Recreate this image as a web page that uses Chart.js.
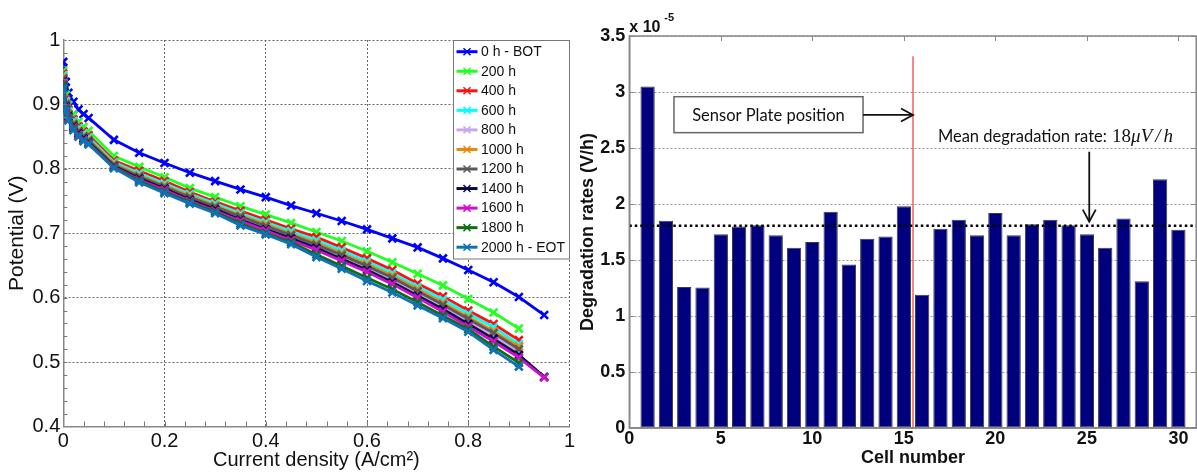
<!DOCTYPE html>
<html><head><meta charset="utf-8">
<script src="https://cdn.jsdelivr.net/npm/chart.js@4.4.0/dist/chart.umd.min.js"></script>
<style>
html,body{margin:0;padding:0;background:#fff;width:1197px;height:472px;overflow:hidden;}
#c1{position:absolute;left:0;top:0;}
#c2{position:absolute;left:570px;top:0;}
</style></head><body>
<canvas id="c1" width="585" height="472"></canvas>
<canvas id="c2" width="627" height="472"></canvas>
<script>
// ---------- Left panel data: polarization curves ----------
const currentDensity = [0,0.005,0.01,0.02,0.03,0.04,0.05,0.1,0.15,0.2,0.25,0.3,0.35,0.4,0.45,0.5,0.55,0.6,0.65,0.7,0.75,0.8,0.85,0.9,0.95];
const seriesLabels = ["0 h - BOT","200 h","400 h","600 h","800 h","1000 h","1200 h","1400 h","1600 h","1800 h","2000 h - EOT"];
const v0h    = [0.966,0.935,0.918,0.904,0.892,0.885,0.879,0.845,0.825,0.809,0.794,0.781,0.768,0.756,0.743,0.731,0.719,0.706,0.692,0.678,0.661,0.643,0.624,0.601,0.573];
const v200h  = [0.952,0.915,0.899,0.884,0.873,0.865,0.859,0.820,0.803,0.787,0.770,0.756,0.742,0.729,0.716,0.702,0.688,0.672,0.655,0.637,0.619,0.598,0.577,0.552,null];
const v400h  = [0.948,0.908,0.892,0.877,0.866,0.858,0.852,0.813,0.797,0.781,0.764,0.749,0.735,0.721,0.707,0.694,0.678,0.661,0.643,0.622,0.602,0.580,0.559,0.534,null];
const v600h  = [0.945,0.905,0.889,0.874,0.863,0.855,0.849,0.810,0.793,0.777,0.761,0.746,0.731,0.717,0.703,0.689,0.673,0.656,0.638,0.617,0.597,0.575,0.554,0.528,null];
const v800h  = [0.938,0.898,0.882,0.867,0.856,0.848,0.842,0.805,0.786,0.770,0.754,0.739,0.723,0.708,0.694,0.679,0.662,0.645,0.627,0.606,0.585,0.563,0.540,0.515,null];
const v1000h = [0.942,0.902,0.886,0.871,0.860,0.852,0.846,0.808,0.790,0.774,0.758,0.743,0.728,0.714,0.699,0.685,0.669,0.652,0.634,0.613,0.592,0.570,0.548,0.524,null];
const v1200h = [0.940,0.900,0.884,0.869,0.858,0.850,0.844,0.806,0.788,0.772,0.756,0.741,0.726,0.711,0.697,0.682,0.666,0.649,0.631,0.610,0.589,0.567,0.545,0.520,null];
const v1400h = [0.936,0.897,0.881,0.866,0.855,0.847,0.841,0.804,0.785,0.769,0.752,0.737,0.721,0.706,0.692,0.677,0.660,0.643,0.624,0.603,0.582,0.559,0.536,0.511,0.477];
const v1600h = [0.934,0.895,0.879,0.864,0.853,0.845,0.840,0.803,0.783,0.767,0.750,0.735,0.719,0.704,0.689,0.674,0.657,0.640,0.621,0.600,0.578,0.555,0.532,0.507,0.476];
const v1800h = [0.930,0.892,0.877,0.862,0.851,0.844,0.839,0.802,0.781,0.764,0.748,0.733,0.715,0.700,0.686,0.667,0.649,0.631,0.613,0.593,0.572,0.551,0.524,0.499,null];
const v2000h = [0.925,0.890,0.875,0.860,0.850,0.843,0.838,0.801,0.779,0.762,0.746,0.731,0.712,0.698,0.683,0.663,0.645,0.626,0.608,0.588,0.568,0.547,0.519,0.493,null];
const seriesValues = [v0h,v200h,v400h,v600h,v800h,v1000h,v1200h,v1400h,v1600h,v1800h,v2000h];
const seriesColors = ["#0000ff","#22ff22","#ff1010","#00ffff","#c8a8ec","#e8870a","#5a5a5a","#0a0a40","#d010d0","#106e10","#1070b8"];
const potentialTicks = [0.4,0.5,0.6,0.7,0.8,0.9,1];
const densityTicks = [0,0.2,0.4,0.6,0.8,1];

// ---------- Right panel data: degradation rates (x 1e-5 V/h) ----------
const cellNumbers = [1,2,3,4,5,6,7,8,9,10,11,12,13,14,15,16,17,18,19,20,21,22,23,24,25,26,27,28,29,30];
const degradationRates = [3.05,1.85,1.26,1.255,1.73,1.80,1.81,1.72,1.61,1.66,1.93,1.46,1.69,1.71,1.98,1.19,1.78,1.86,1.72,1.92,1.72,1.82,1.86,1.81,1.73,1.61,1.87,1.31,2.22,1.77];
const meanRate = 1.806;
const sensorPlatePosition = 15.5;
const sensorLineTop = 3.32;
const cellTicks = [0,5,10,15,20,25,30];
const rateTicks = [0,0.5,1,1.5,2,2.5,3,3.5];

const ARIAL = "'Liberation Sans', Arial, sans-serif";
const fmt = v => String(Math.round(v * 100) / 100);

// ---------- Left chart ----------
const leftLegend = {
  id:'leftLegend',
  afterDraw(chart){
    const ctx = chart.ctx, ca = chart.chartArea;
    const x0 = Math.round(ca.right) - 117 + 0.5, y0 = Math.round(ca.top) + 0.5, w = 116, h = 218.5;
    ctx.save();
    ctx.fillStyle = '#fff'; ctx.fillRect(x0, y0, w, h);
    ctx.strokeStyle = '#777'; ctx.lineWidth = 1; ctx.strokeRect(x0, y0, w, h);
    ctx.font = '14px ' + ARIAL; ctx.textBaseline = 'middle'; ctx.fillStyle = '#111';
    seriesLabels.forEach((lab, i) => {
      const y = y0 + 11.2 + i * 19.55;
      ctx.strokeStyle = seriesColors[i]; ctx.lineWidth = 3;
      ctx.beginPath(); ctx.moveTo(x0 + 3, y); ctx.lineTo(x0 + 24, y); ctx.stroke();
      ctx.lineWidth = 1.5;
      const cx = x0 + 13.5, r = 3.5;
      ctx.beginPath(); ctx.moveTo(cx - r, y - r); ctx.lineTo(cx + r, y + r);
      ctx.moveTo(cx - r, y + r); ctx.lineTo(cx + r, y - r); ctx.stroke();
      ctx.fillText(lab, x0 + 27.5, y + 0.5);
    });
    ctx.restore();
  }
};
const leftMinorTicks = {
  id:'leftMinorTicks',
  afterDatasetsDraw(chart){
    const ctx = chart.ctx, ca = chart.chartArea, xs = chart.scales.x, ys = chart.scales.y;
    ctx.save(); ctx.strokeStyle = '#777'; ctx.lineWidth = 1;
    ctx.beginPath();
    for (let k = 1; k < 30; k++) { const p = Math.round(ys.getPixelForValue(0.4 + k * 0.02)) + 0.5; ctx.moveTo(ca.left, p); ctx.lineTo(ca.left + 4, p); }
    for (let k = 1; k < 25; k++) { const p = Math.round(xs.getPixelForValue(k * 0.04)) + 0.5; ctx.moveTo(p, ca.bottom); ctx.lineTo(p, ca.bottom - 5); }
    ctx.stroke(); ctx.restore();
  }
};

new Chart(document.getElementById('c1'), {
  type: 'line',
  data: {
    datasets: seriesValues.map((vals, i) => ({
      label: seriesLabels[i],
      data: currentDensity.map((x, j) => ({x: x, y: vals[j]})).filter(p => p.y !== null),
      borderColor: seriesColors[i], backgroundColor: seriesColors[i],
      borderWidth: 2.8, pointStyle: 'crossRot', pointRadius: 5.5, pointBorderWidth: 2.6,
      fill: false, tension: 0, order: 20 - i
    }))
  },
  options: {
    responsive: false, animation: false, devicePixelRatio: 1,
    layout: { padding: { left: 0, top: 40, right: 15.5, bottom: 0 } },
    plugins: { legend: { display: false }, tooltip: { enabled: false } },
    scales: {
      x: {
        type: 'linear', min: 0, max: 1,
        afterBuildTicks(s){ s.ticks = densityTicks.map(v => ({value: v})); },
        afterFit(s){ s.height = 45.5; },
        grid: { color: '#666', lineWidth: 1, drawTicks: false },
        border: { display: true, color: '#888', width: 1.5, dash: [2, 2] },
        ticks: { color: '#111', font: { family: ARIAL, size: 20 }, padding: 3, maxRotation: 0, autoSkip: false, callback: fmt },
        title: { display: true, text: 'Current density (A/cm²)', color: '#111', font: { family: ARIAL, size: 20 }, padding: { top: 0, bottom: 0 } }
      },
      y: {
        type: 'linear', min: 0.4, max: 1,
        afterBuildTicks(s){ s.ticks = potentialTicks.map(v => ({value: v})); },
        afterFit(s){ s.width = 63.3; },
        grid: { color: '#666', lineWidth: 1, drawTicks: false },
        border: { display: true, color: '#888', width: 1.5, dash: [2, 2] },
        ticks: { color: '#111', font: { family: ARIAL, size: 20 }, padding: 3, callback: fmt },
        title: { display: true, text: 'Potential (V)', color: '#111', font: { family: ARIAL, size: 21 }, padding: { top: 5, bottom: 0 } }
      }
    }
  },
  plugins: [leftMinorTicks, leftLegend]
});

// ---------- Right chart ----------
const CAL = "Lato, 'Open Sans', sans-serif";
function arrowHead(ctx, tx, ty, dir){
  ctx.beginPath();
  if (dir === 'right') { ctx.moveTo(tx - 12, ty - 6.5); ctx.lineTo(tx, ty); ctx.lineTo(tx - 12, ty + 6.5); }
  else { ctx.moveTo(tx - 6.5, ty - 12); ctx.lineTo(tx, ty); ctx.lineTo(tx + 6.5, ty - 12); }
  ctx.stroke();
}
const rightDecor = {
  id:'rightDecor',
  afterDraw(chart){
    const ctx = chart.ctx, ca = chart.chartArea, xs = chart.scales.x, ys = chart.scales.y;
    ctx.save();
    ctx.strokeStyle = '#888'; ctx.lineWidth = 1.5;
    ctx.strokeRect(ca.left, ca.top, ca.right - ca.left - 0.5, ca.bottom - ca.top);
    ctx.lineWidth = 1; ctx.beginPath();
    cellTicks.forEach(v => { const p = Math.round(xs.getPixelForValue(v)) + 0.5; ctx.moveTo(p, ca.top); ctx.lineTo(p, ca.top + 5); });
    rateTicks.forEach(v => { const p = Math.round(ys.getPixelForValue(v)) + 0.5; ctx.moveTo(ca.left, p); ctx.lineTo(ca.left + 5, p); ctx.moveTo(ca.right - 1, p); ctx.lineTo(ca.right - 6, p); });
    ctx.stroke();
    ctx.fillStyle = '#111'; ctx.textBaseline = 'middle'; ctx.textAlign = 'left';
    ctx.font = 'bold 16px ' + ARIAL; ctx.fillText('x 10', ca.left, ca.top - 8.5);
    ctx.font = 'bold 11px ' + ARIAL; ctx.fillText('-5', ca.left + 35, ca.top - 18);
    const bx0 = xs.getPixelForValue(2.44), bx1 = xs.getPixelForValue(12.77);
    const by0 = ys.getPixelForValue(2.958), by1 = ys.getPixelForValue(2.637);
    ctx.fillStyle = '#fff'; ctx.fillRect(bx0, by0, bx1 - bx0, by1 - by0);
    ctx.strokeStyle = '#666'; ctx.lineWidth = 1.5; ctx.strokeRect(bx0, by0, bx1 - bx0, by1 - by0);
    ctx.fillStyle = '#111'; ctx.font = '16.5px ' + CAL; ctx.textAlign = 'center';
    ctx.fillText('Sensor Plate position', (bx0 + bx1) / 2, (by0 + by1) / 2 + 1);
    const ay = ys.getPixelForValue(2.795), ax1 = xs.getPixelForValue(sensorPlatePosition);
    ctx.strokeStyle = '#111'; ctx.lineWidth = 1.8;
    ctx.beginPath(); ctx.moveTo(bx1, ay); ctx.lineTo(ax1, ay); ctx.stroke();
    arrowHead(ctx, ax1, ay, 'right');
    const tx = xs.getPixelForValue(16.86), ty = ys.getPixelForValue(2.601);
    ctx.textAlign = 'left'; ctx.font = '16.5px ' + CAL;
    const t1 = 'Mean degradation rate: ';
    ctx.fillText(t1, tx, ty);
    let cx = tx + ctx.measureText(t1).width + 1;
    ctx.font = "19px 'Liberation Serif', serif";
    ctx.fillText('18', cx, ty); cx += ctx.measureText('18').width;
    ctx.font = "italic 19px 'Liberation Serif', serif";
    ctx.fillText('\u03BCV', cx, ty); cx += ctx.measureText('\u03BCV').width + 3;
    ctx.fillText('/', cx, ty); cx += ctx.measureText('/').width + 3;
    ctx.fillText('h', cx, ty);
    const mx = xs.getPixelForValue(25.13);
    ctx.beginPath(); ctx.moveTo(mx, ys.getPixelForValue(2.467)); ctx.lineTo(mx, ys.getPixelForValue(1.842)); ctx.stroke();
    arrowHead(ctx, mx, ys.getPixelForValue(1.842), 'down');
    ctx.restore();
  }
};

new Chart(document.getElementById('c2'), {
  type: 'bar',
  data: {
    datasets: [
      { type: 'line', label: 'mean', data: [{x: 0, y: meanRate}, {x: 31, y: meanRate}],
        borderColor: '#000', borderWidth: 2.5, borderDash: [2.5, 3], pointRadius: 0, fill: false, order: 0 },
      { type: 'line', label: 'sensor', data: [{x: sensorPlatePosition, y: 0}, {x: sensorPlatePosition, y: sensorLineTop}],
        borderColor: '#f06060', borderWidth: 1.5, pointRadius: 0, fill: false, order: 1 },
      { type: 'bar', label: 'rate', data: cellNumbers.map((c, i) => ({x: c, y: degradationRates[i]})),
        backgroundColor: '#00007f', borderColor: '#3c3c3c', borderWidth: 1, borderSkipped: false,
        barPercentage: 0.78, categoryPercentage: 1, order: 2 }
    ]
  },
  options: {
    responsive: false, animation: false, devicePixelRatio: 1,
    layout: { padding: { left: 0, top: 36, right: 0.3, bottom: 0 } },
    plugins: { legend: { display: false }, tooltip: { enabled: false } },
    scales: {
      x: {
        type: 'linear', min: 0, max: 31, offset: false,
        afterBuildTicks(s){ s.ticks = cellTicks.map(v => ({value: v})); },
        afterFit(s){ s.height = 44; },
        grid: { display: false, drawTicks: false },
        border: { display: true, color: '#888', width: 1.5 },
        ticks: { color: '#111', font: { family: ARIAL, size: 18, weight: 'bold' }, padding: 0, maxRotation: 0, autoSkip: false, callback: fmt },
        title: { display: true, text: 'Cell number', color: '#111', font: { family: ARIAL, size: 18, weight: 'bold' }, padding: { top: 0, bottom: 3 } }
      },
      y: {
        type: 'linear', min: 0, max: 3.5,
        afterBuildTicks(s){ s.ticks = rateTicks.map(v => ({value: v})); },
        afterFit(s){ s.width = 59.3; },
        grid: { color: '#999', lineWidth: 1, drawTicks: false },
        border: { display: true, color: '#888', width: 1.5, dash: [2, 2] },
        ticks: { color: '#111', font: { family: ARIAL, size: 18, weight: 'bold' }, padding: 4, callback: fmt },
        title: { display: true, text: 'Degradation rates (V/h)', color: '#111', font: { family: ARIAL, size: 18, weight: 'bold' }, padding: { top: 7, bottom: 0 } }
      }
    }
  },
  plugins: [rightDecor]
});
</script>
</body></html>
